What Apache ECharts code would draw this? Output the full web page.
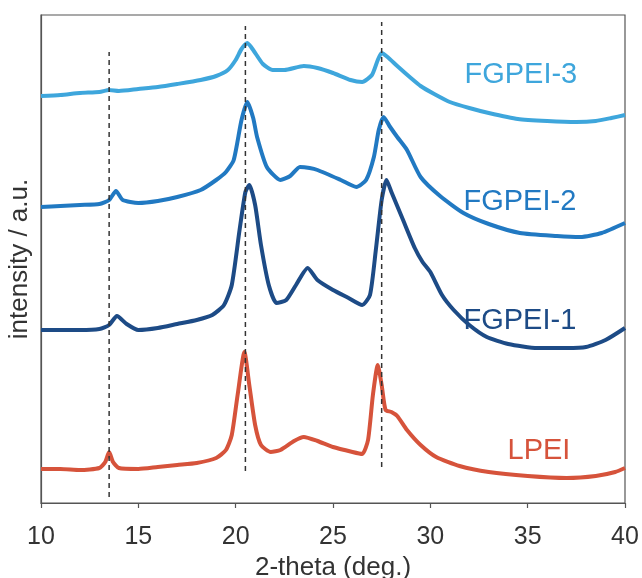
<!DOCTYPE html>
<html>
<head>
<meta charset="utf-8">
<script src="https://cdn.jsdelivr.net/npm/echarts@6/dist/echarts.min.js"></script>
<style>
  html, body { margin: 0; padding: 0; background: #fff; }
  #chart { width: 642px; height: 578px; }
</style>
</head>
<body>
<div id="chart"></div>
<script>
// 2-theta positions and offset intensities (a.u.)
const fg3X = [10, 11, 12, 13, 13.5, 14, 15, 16, 17, 18.2, 19, 19.6, 20.0, 20.3, 20.6, 20.9, 21.4, 21.9, 22.5, 23.5, 24.2, 25, 25.9, 26.5, 27.0, 27.3, 27.5, 27.8, 28.3, 29, 29.5, 30.2, 31, 32, 33, 34.5, 36, 37.5, 38.5, 39.3, 40];
const fg3Y = [407, 408, 410, 411, 413, 412, 414, 416, 419, 423, 427, 433, 443, 454, 460, 453, 439, 433, 433, 437, 435, 430, 423, 421, 428, 443, 450, 446, 437, 425, 417, 409, 401, 395, 390, 384, 382, 381, 382, 385, 388];

const fg2X = [10, 11, 12, 13, 13.5, 13.85, 14.2, 15, 16, 17, 18.2, 19, 19.5, 19.9, 20.3, 20.6, 20.9, 21.1, 21.6, 22.3, 22.8, 23.3, 23.8, 24.2, 25.4, 26.2, 26.7, 27.1, 27.35, 27.6, 27.9, 28.3, 28.8, 29.5, 30.5, 31.7, 33, 34.6, 36.5, 37.7, 38.8, 40];
const fg2Y = [296, 297, 298, 299, 303, 312, 303, 300, 302, 306, 313, 323, 331, 343, 383, 401, 385, 366, 336, 323, 327, 336, 335, 333, 323, 316, 323, 346, 373, 386, 377, 366, 353, 326, 307, 290, 279, 270, 267, 266, 270, 280];

const fg1X = [10, 11, 12, 13, 13.5, 13.9, 14.4, 15, 16, 17, 18, 18.8, 19.4, 19.8, 20.2, 20.5, 20.7, 21.0, 21.3, 21.7, 22.1, 22.6, 23.1, 23.7, 24.2, 25, 25.8, 26.5, 26.9, 27.2, 27.5, 27.75, 28.0, 28.6, 29.2, 29.6, 30.0, 30.6, 31.2, 32, 32.9, 34, 35.5, 37, 38, 39, 40];
const fg1Y = [173, 173, 173, 174, 178, 187, 179, 173, 175, 179, 183, 188, 198, 218, 273, 311, 318, 298, 258, 218, 200, 203, 218, 235, 223, 213, 205, 198, 208, 253, 303, 323, 311, 283, 255, 241, 231, 208, 193, 178, 166, 159, 155, 155, 156, 163, 175];

const lpeiX = [10, 11, 12, 13, 13.3, 13.5, 13.7, 14, 15, 16, 17, 18, 19, 19.5, 19.8, 20.1, 20.45, 20.7, 21.0, 21.3, 21.8, 22.3, 23, 23.5, 24.2, 25, 26, 26.5, 26.8, 27.05, 27.3, 27.5, 27.7, 28.0, 28.3, 28.8, 29.5, 30.3, 31.5, 33, 35, 37, 38.5, 39.5, 40];
const lpeiY = [34, 34, 33, 35, 41, 51, 41, 35, 34, 36, 38, 40, 45, 53, 68, 108, 151, 118, 78, 58, 51, 53, 62, 66, 62, 56, 51, 49, 63, 108, 138, 118, 93, 91, 87, 73, 58, 46, 37, 31, 27, 25, 27, 31, 35];

// reference reflections (dashed guides)
const dashX = [13.5, 20.5, 27.5];
const dashLow = [6, 32, 36];
const dashHigh = [451, 477, 481];

const names = ['FGPEI-3', 'FGPEI-2', 'FGPEI-1', 'LPEI'];
const colors = ['#3ea6dc', '#2179c2', '#1d4b86', '#d6533b'];
const labelX = [34.65, 34.6, 34.6, 35.58];
const labelY = [428, 301, 182, 52];
const xTicks = [10, 15, 20, 25, 30, 35, 40];

const font = '"Liberation Sans", Arial, sans-serif';

function pairs(xs, ys) {
    return xs.map(function (x, i) { return [x, ys[i]]; });
}

const curves = [pairs(fg3X, fg3Y), pairs(fg2X, fg2Y), pairs(fg1X, fg1Y), pairs(lpeiX, lpeiY)];

let series = curves.map(function (d, i) {
    return {
        name: names[i],
        type: 'line',
        data: d,
        showSymbol: false,
        symbol: 'none',
        silent: true,
        smooth: 0.2,
        z: 2,
        lineStyle: { color: colors[i], width: 4, join: 'round' },
        markPoint: {
            symbol: 'circle',
            symbolSize: 0,
            silent: true,
            data: [{ coord: [labelX[i], labelY[i]] }],
            label: {
                show: true,
                position: 'inside',
                formatter: names[i],
                color: colors[i],
                fontSize: 29,
                fontFamily: font
            }
        }
    };
});

dashX.forEach(function (x, i) {
    series.push({
        type: 'line',
        data: [[x, dashLow[i]], [x, dashHigh[i]]],
        symbol: 'none',
        silent: true,
        z: 5,
        lineStyle: { color: '#333', width: 1.5, type: [5, 4] }
    });
});

const chart = echarts.init(document.getElementById('chart'), null, { renderer: 'canvas' });

const option = {
    animation: false,
    backgroundColor: '#fff',
    grid: {
        left: 41, right: 17, top: 15, bottom: 75,
        outerBoundsMode: 'none',
        show: true, borderColor: '#555', borderWidth: 1.2
    },
    xAxis: {
        type: 'value',
        min: 10, max: 40, interval: 5,
        name: '2-theta (deg.)',
        nameLocation: 'middle',
        nameGap: 52,
        nameTextStyle: { fontSize: 26, color: '#333', fontFamily: font },
        axisLine: { show: true, lineStyle: { color: '#555', width: 1.2 } },
        axisTick: { show: true, length: 5, lineStyle: { color: '#555', width: 1.2 } },
        axisLabel: {
            fontSize: 25, color: '#333', fontFamily: font, margin: 22,
            customValues: xTicks
        },
        splitLine: { show: false }
    },
    yAxis: {
        type: 'value',
        min: 0, max: 488,
        name: 'intensity / a.u.',
        nameLocation: 'middle',
        nameGap: 8,
        nameTextStyle: { fontSize: 26, color: '#333', fontFamily: font },
        axisLine: { show: true, lineStyle: { color: '#555', width: 1.2 } },
        axisTick: { show: false },
        axisLabel: { show: false },
        splitLine: { show: false }
    },
    series: series
};

chart.setOption(option);
</script>
</body>
</html>
